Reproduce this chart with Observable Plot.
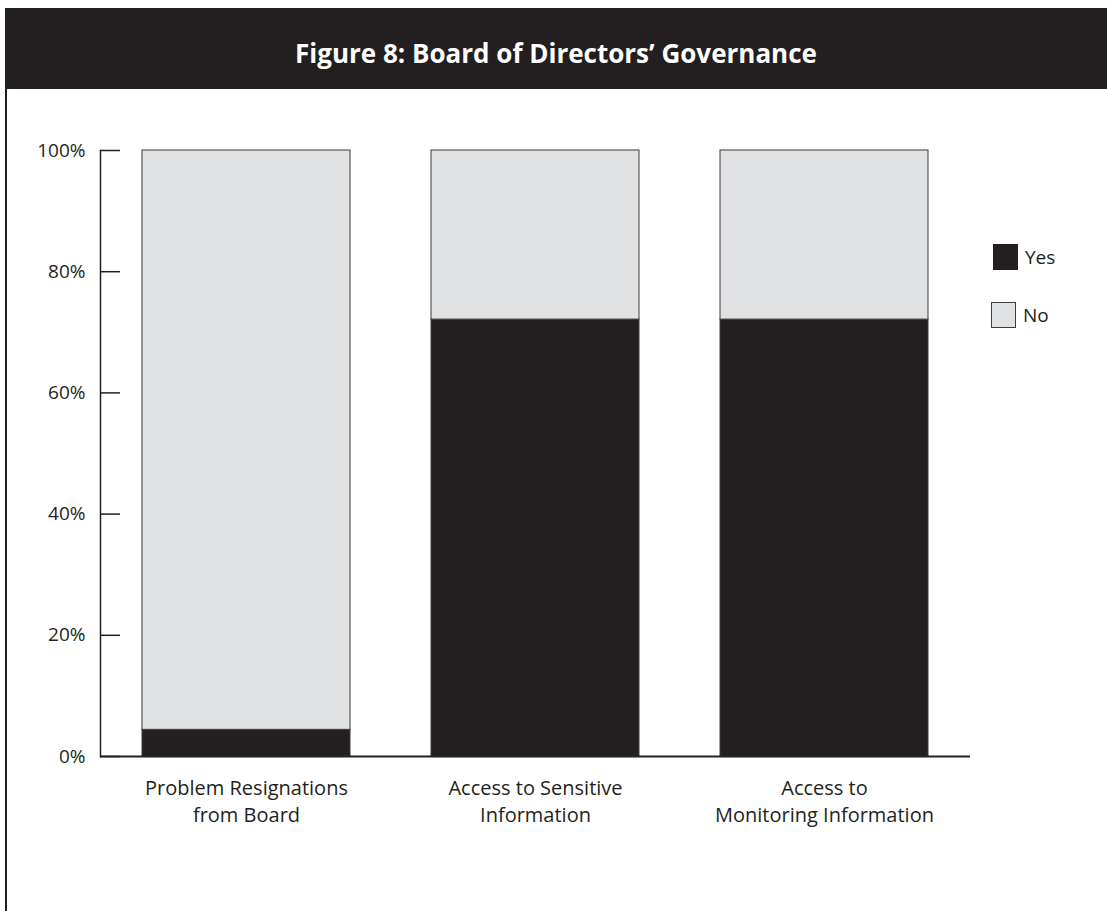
<!DOCTYPE html>
<html>
<head>
<meta charset="utf-8">
<script src="https://cdn.jsdelivr.net/npm/d3@7"></script>
<script src="https://cdn.jsdelivr.net/npm/@observablehq/plot@0.6"></script>
<style>
  html, body { margin: 0; padding: 0; background: #fff; }
  #wrap { position: relative; width: 1107px; height: 911px; overflow: hidden; font-family: "Open Sans", sans-serif; color: #231f20; }
  #header { position: absolute; left: 5px; right: 0; top: 8px; height: 81px; box-sizing: border-box; padding-top: 9px; background: #231f20; color: #fff;
            display: flex; align-items: center; justify-content: center; font-weight: bold; font-size: 26px; }
  #leftline { position: absolute; left: 5px; top: 89px; bottom: 0; width: 1.5px; background: #231f20; }
  #chart { position: absolute; left: 0; top: 89px; }
  .lg { position: absolute; display: flex; align-items: center; font-size: 19px; }
  .sw { width: 25px; height: 26px; box-sizing: border-box; margin-right: 7px; }
</style>
</head>
<body>
<div id="wrap">
  <div id="header">Figure 8: Board of Directors’ Governance</div>
  <div id="leftline"></div>
  <div id="chart"></div>
  <div class="lg" style="left:993px; top:244px;"><div class="sw" style="background:#231f20;"></div><span>Yes</span></div>
  <div class="lg" style="left:991px; top:302px;"><div class="sw" style="background:#e0e1e2; border:1px solid #3d3b3c;"></div><span>No</span></div>
</div>
<script>
const categories = [
  "Problem Resignations\nfrom Board",
  "Access to Sensitive\nInformation",
  "Access to\nMonitoring Information"
];
const answers = ["Yes", "No"];
const yesValues = [0.044, 0.721, 0.721];
const noValues = [0.956, 0.279, 0.279];
const yTicks = [0, 0.2, 0.4, 0.6, 0.8, 1.0];

const rows = [];
categories.forEach((c, i) => {
  rows.push({category: c, answer: "Yes", value: yesValues[i]});
  rows.push({category: c, answer: "No", value: noValues[i]});
});

const ink = "#231f20";
const chart = Plot.plot({
  width: 1107,
  height: 822,
  marginLeft: 100,
  marginRight: 137,
  marginTop: 61,
  marginBottom: 155,
  style: {fontFamily: "'Open Sans', sans-serif", color: ink, background: "transparent"},
  x: {domain: categories, paddingInner: 0.279, paddingOuter: 0.14, align: 0.5},
  y: {domain: [0, 1]},
  color: {domain: answers, range: [ink, "#e0e1e2"]},
  marks: [
    Plot.barY(rows, {x: "category", y: "value", fill: "answer", stroke: "#3d3b3c", strokeWidth: 1}),
    Plot.ruleY(yTicks, {stroke: ink, strokeWidth: 1.5, insetRight: 850}),
    Plot.frame({anchor: "left", stroke: ink, strokeWidth: 1.5}),
    Plot.ruleY([0], {stroke: ink, strokeWidth: 2}),
    Plot.axisY({ticks: yTicks, tickSize: 0, tickPadding: 15, tickFormat: d => Math.round(d * 100) + "%", fontSize: 19, fill: ink, label: null}),
    Plot.axisX({tickSize: 0, tickPadding: 19, fontSize: 20, lineHeight: 1.35, fill: ink, label: null})
  ]
});
document.getElementById("chart").appendChild(chart);
</script>
</body>
</html>
